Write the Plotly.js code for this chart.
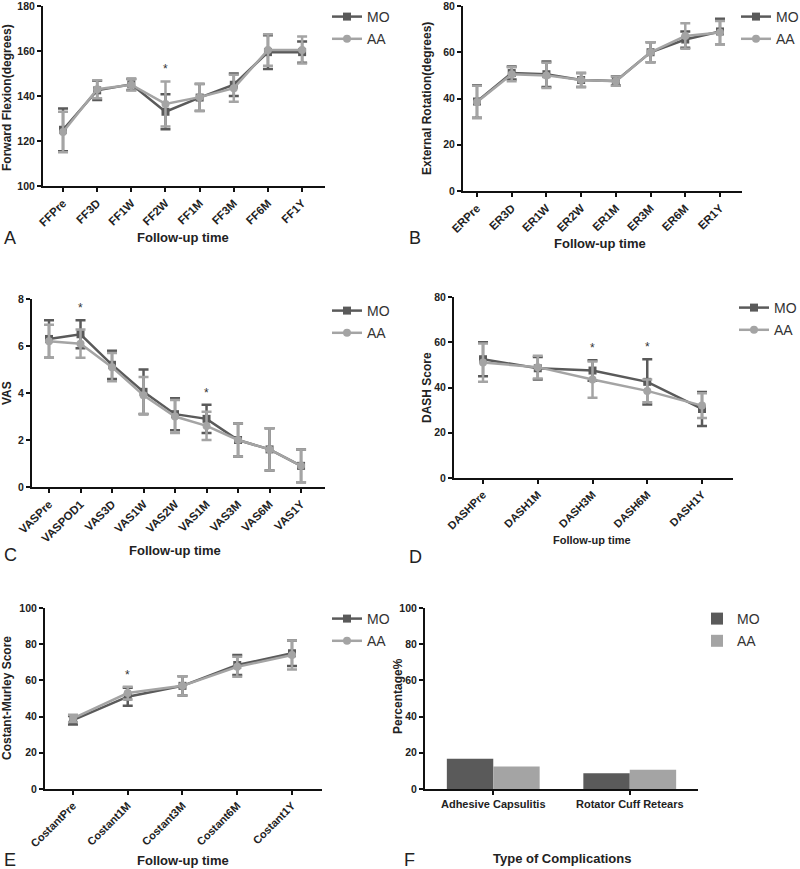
<!DOCTYPE html>
<html>
<head>
<meta charset="utf-8">
<script src="https://cdn.plot.ly/plotly-3.0.1.min.js"></script>
<style>html,body{margin:0;padding:0;background:#fff;}#chart{width:800px;height:869px;}</style>
</head>
<body>
<div id="chart"></div>
<script>
// ---- Data ----
const groups = ['MO', 'AA'];

const ffCats = ['FFPre','FF3D','FF1W','FF2W','FF1M','FF3M','FF6M','FF1Y'];
const ffMO   = [125, 142.5, 145.2, 133, 139.3, 145, 159.5, 159.5];
const ffMOsd = [9.5, 4.3, 2.5, 7.8, 6, 5, 7.5, 4.7];
const ffAA   = [124, 143, 145, 136.5, 139.5, 143.5, 160.5, 160.5];
const ffAAsd = [9, 4, 2.5, 10, 6, 6, 7, 6];
const ffSig  = ['FF2W'];

const erCats = ['ERPre','ER3D','ER1W','ER2W','ER1M','ER3M','ER6M','ER1Y'];
const erMO   = [38.7, 51, 50.5, 48, 47.6, 60, 65.5, 69];
const erMOsd = [7, 2.8, 5.5, 3, 2, 4.3, 3.5, 5.5];
const erAA   = [38.5, 50.5, 50, 48, 47.5, 60, 67, 68.5];
const erAAsd = [7, 3, 5.5, 3, 2, 4.3, 5.5, 5];

const vasCats = ['VASPre','VASPOD1','VAS3D','VAS1W','VAS2W','VAS1M','VAS3M','VAS6M','VAS1Y'];
const vasMO   = [6.3, 6.5, 5.2, 4.05, 3.1, 2.9, 2.0, 1.6, 0.9];
const vasMOsd = [0.8, 0.6, 0.6, 0.95, 0.68, 0.6, 0.7, 0.9, 0.7];
const vasAA   = [6.2, 6.1, 5.1, 3.9, 3.0, 2.6, 2.0, 1.6, 0.9];
const vasAAsd = [0.7, 0.6, 0.6, 0.78, 0.7, 0.6, 0.7, 0.9, 0.7];
const vasSig  = ['VASPOD1', 'VAS1M'];

const dashCats = ['DASHPre','DASH1M','DASH3M','DASH6M','DASH1Y'];
const dashMO   = [52.5, 48.5, 47.5, 42.5, 30.5];
const dashMOsd = [7.5, 5, 4.5, 10, 7.5];
const dashAA   = [51, 49, 43.5, 38.5, 32];
const dashAAsd = [8.5, 5, 8, 5, 5.5];
const dashSig  = ['DASH3M', 'DASH6M'];

const cmCats = ['CostantPre','Costant1M','Costant3M','Costant6M','Costant1Y'];
const cmMO   = [38, 51, 57, 68.5, 75];
const cmMOsd = [2.3, 5, 5.3, 5.5, 7];
const cmAA   = [39, 53, 57, 67.5, 74];
const cmAAsd = [2, 3.5, 5.3, 5.5, 8];
const cmSig  = ['Costant1M'];

const compCats = ['Adhesive Capsulitis', 'Rotator Cuff Retears'];
const compMO   = [16.7, 8.7];
const compAA   = [12.5, 10.7];

// ---- Styling ----
const FONT = 'Liberation Sans, Arial, sans-serif';
const colMO = '#5a5a5a', colAA = '#a4a4a4';
const W = 800, H = 869;
const px = v => v / W;
const py = v => 1 - v / H;

const traces = [];
const annotations = [];
const layout = {
  width: W, height: H,
  margin: {l: 0, r: 0, t: 0, b: 0, autoexpand: false},
  paper_bgcolor: '#fff', plot_bgcolor: '#fff',
  font: {family: FONT, color: '#222'},
  annotations: annotations,
  showlegend: true
};

function axisX(dom, anchor, range, angle, fs) {
  return {
    domain: dom, anchor: anchor, type: 'category', range: range,
    showline: true, linecolor: '#111', linewidth: 2,
    ticks: 'outside', ticklen: 4, tickwidth: 2, tickcolor: '#111',
    showgrid: false, zeroline: false, tickangle: angle,
    ticklabeloverflow: 'allow',
    tickfont: {family: FONT, size: fs, weight: 700, color: '#222'},
    fixedrange: true
  };
}
function axisY(dom, anchor, range, dtick) {
  return {
    domain: dom, anchor: anchor, range: range, dtick: dtick, tick0: range[0],
    showline: true, linecolor: '#111', linewidth: 2,
    ticks: 'outside', ticklen: 4, tickwidth: 2, tickcolor: '#111',
    showgrid: false, zeroline: false,
    ticklabeloverflow: 'allow',
    tickfont: {family: FONT, size: 10.5, weight: 700, color: '#222'},
    fixedrange: true
  };
}
function legendAt(xpx, ypx) {
  return {
    x: px(xpx), y: py(ypx), xanchor: 'left', yanchor: 'top',
    bgcolor: 'rgba(0,0,0,0)', borderwidth: 0,
    font: {family: FONT, size: 14, color: '#333'},
    traceorder: 'grouped', tracegroupgap: 1, itemwidth: 30
  };
}
function linePanel(idx, cats, mo, mosd, aa, aasd, sig) {
  const sx = idx === 1 ? '' : String(idx);
  const xr = 'x' + sx, yr = 'y' + sx, lg = 'legend' + sx;
  const specs = [
    {name: groups[0], y: mo, sd: mosd, col: colMO, sym: 'square'},
    {name: groups[1], y: aa, sd: aasd, col: colAA, sym: 'circle'}
  ];
  specs.forEach(s => {
    traces.push({
      type: 'scatter', mode: 'lines+markers', name: s.name,
      x: cats, y: s.y, xaxis: xr, yaxis: yr, legend: lg,
      legendgroup: lg + s.name,
      line: {color: s.col, width: 2.5},
      marker: {color: s.col, symbol: s.sym, size: 8},
      error_y: {type: 'data', array: s.sd, visible: true, color: s.col, thickness: 2.5, width: 5},
      hoverinfo: 'x+y'
    });
  });
  sig.forEach(c => {
    const i = cats.indexOf(c);
    const top = Math.max(mo[i] + mosd[i], aa[i] + aasd[i]);
    annotations.push({
      xref: xr, yref: yr, x: c, y: top, text: '*', showarrow: false,
      yanchor: 'bottom', yshift: 3,
      font: {family: FONT, size: 12, color: '#333'}
    });
  });
}

// Panel A
layout.xaxis  = axisX([px(43), px(325)], 'y', [-0.586, 7.67], -45, 11.5);
layout.yaxis  = axisY([py(186), py(6)], 'x', [100, 180], 20);
layout.legend = legendAt(327, 1);
linePanel(1, ffCats, ffMO, ffMOsd, ffAA, ffAAsd, ffSig);

// Panel B
layout.xaxis2  = axisX([px(463), px(742)], 'y2', [-0.403, 7.634], -45, 11.5);
layout.yaxis2  = axisY([py(191), py(6)], 'x2', [0, 80], 20);
layout.legend2 = legendAt(736, 1);
linePanel(2, erCats, erMO, erMOsd, erAA, erAAsd, []);

// Panel C
layout.xaxis3  = axisX([px(32), px(325)], 'y3', [-0.54, 8.76], -45, 11.5);
layout.yaxis3  = axisY([py(487), py(299)], 'x3', [0, 8], 2);
layout.legend3 = legendAt(327, 295);
linePanel(3, vasCats, vasMO, vasMOsd, vasAA, vasAAsd, vasSig);

// Panel D
layout.xaxis4  = axisX([px(454), px(733)], 'y4', [-0.53, 4.566], -45, 11);
layout.yaxis4  = axisY([py(478), py(297)], 'x4', [0, 80], 20);
layout.legend4 = legendAt(734, 292);
linePanel(4, dashCats, dashMO, dashMOsd, dashAA, dashAAsd, dashSig);

// Panel E
layout.xaxis5  = axisX([px(45), px(322)], 'y5', [-0.511, 4.548], -45, 11);
layout.yaxis5  = axisY([py(789), py(608)], 'x5', [0, 100], 20);
layout.legend5 = legendAt(327, 603);
linePanel(5, cmCats, cmMO, cmMOsd, cmAA, cmAAsd, cmSig);

// Panel F (bars)
layout.xaxis6  = axisX([px(425), px(698)], 'y6', [-0.5, 1.5], 0, 11);
layout.yaxis6  = axisY([py(789), py(608)], 'x6', [0, 100], 20);
layout.legend6 = legendAt(697, 603);
layout.barmode = 'group';
layout.bargap = 0.32;
layout.bargroupgap = 0;
[[groups[0], compMO, colMO], [groups[1], compAA, colAA]].forEach(([n, v, c]) => {
  traces.push({
    type: 'bar', name: n, x: compCats, y: v, xaxis: 'x6', yaxis: 'y6',
    legend: 'legend6', legendgroup: 'F' + n,
    marker: {color: c, line: {width: 0}}, hoverinfo: 'x+y'
  });
});

// Titles and panel letters
function addText(text, x, y, size, bold, angle) {
  annotations.push({
    xref: 'paper', yref: 'paper', x: px(x), y: py(y), text: text,
    showarrow: false, xanchor: 'center', yanchor: 'middle', textangle: angle || 0,
    font: {family: FONT, size: size, weight: bold ? 700 : 400, color: '#222'}
  });
}
// y titles
addText('Forward Flexion(degrees)', 7, 98, 12, true, -90);
addText('External Rotation(degrees)', 427, 98, 12, true, -90);
addText('VAS', 7, 393, 12, true, -90);
addText('DASH Score', 427, 387, 12, true, -90);
addText('Costant-Murley Score', 7, 698, 12, true, -90);
addText('Percentage%', 398, 696, 12, true, -90);
// x titles
addText('Follow-up time', 183, 238, 13, true);
addText('Follow-up time', 600, 243, 13, true);
addText('Follow-up time', 175, 550, 13, true);
addText('Follow-up time', 592, 540, 11, true);
addText('Follow-up time', 183, 860, 13, true);
addText('Type of Complications', 562, 858, 13, true);
// panel letters
addText('A', 10, 238, 18, false);
addText('B', 415, 238, 18, false);
addText('C', 10, 555, 18, false);
addText('D', 415, 557, 18, false);
addText('E', 10, 860, 18, false);
addText('F', 410, 860, 18, false);

Plotly.newPlot('chart', traces, layout, {displayModeBar: false, staticPlot: true});
</script>
</body>
</html>
